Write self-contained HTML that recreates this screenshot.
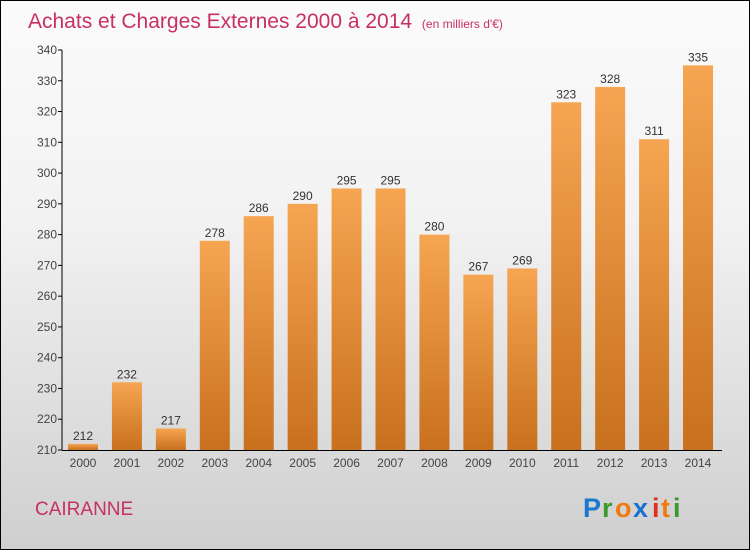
<!DOCTYPE html>
<html><head><meta charset="utf-8"><style>
body{margin:0}
#c{width:748px;height:548px;border:1px solid #000;background:linear-gradient(#fbfbfb,#f2f2f2 40%,#cfcfcf);position:relative;overflow:hidden;font-family:"Liberation Sans",sans-serif}
</style></head><body>
<div id="c">
<svg id="s" width="748" height="548">
<defs><linearGradient id="g" x1="0" y1="0" x2="0" y2="1"><stop offset="0" stop-color="#f6a552"/><stop offset="1" stop-color="#c8701e"/></linearGradient></defs>
<text x="27" y="27" font-size="21" fill="#c83060">Achats et Charges Externes 2000 à 2014 <tspan font-size="12" dx="4">(en milliers d'€)</tspan></text>
<text x="34" y="514" font-size="19" fill="#c83060">CAIRANNE</text>
<g font-size="27" font-weight="bold"><text x="582" y="516" fill="#1a78d0">P</text><text x="601" y="516" fill="#3a9a30">r</text><text x="614" y="516" fill="#f07a10">o</text><text x="632" y="516" fill="#1a70d0">x</text><text x="651" y="516" fill="#e03020">i</text><text x="660" y="516" fill="#f07a10">t</text><text x="672" y="516" fill="#3a9a30">i</text></g>
<g id="bars"></g>
</svg></div>
<script>
const years=["2000","2001","2002","2003","2004","2005","2006","2007","2008","2009","2010","2011","2012","2013","2014"];
const values=[212,232,217,278,286,290,295,295,280,267,269,323,328,311,335];
const ticks=[210,220,230,240,250,260,270,280,290,300,310,320,330,340];
const NS="http://www.w3.org/2000/svg",s=document.getElementById('bars');
const y0=449,y1=49,vmin=210,vmax=340;
const Y=v=>y0-(v-vmin)/(vmax-vmin)*(y0-y1);
const X=i=>82+i*43.93;
function el(t,a,txt){const e=document.createElementNS(NS,t);for(const k in a)e.setAttribute(k,a[k]);if(txt!=null)e.textContent=txt;s.appendChild(e);return e;}
ticks.forEach(t=>{
const l=el('line',{x1:57,x2:61,y1:Y(t),y2:Y(t),stroke:'#000'});


const tx=el('text',{x:56,y:Y(t)+4,'text-anchor':'end','font-size':12,fill:'#444'},t);


});
values.forEach((v,i)=>{
const r=el('rect',{x:X(i)-15,y:Y(v),width:30,height:y0-Y(v),fill:'url(#g)'});


const lb=el('text',{x:X(i),y:Y(v)-4,'text-anchor':'middle','font-size':12,fill:'#333'},v);


const xl=el('text',{x:X(i),y:466,'text-anchor':'middle','font-size':12,fill:'#444'},years[i]);


});
const ya=el('line',{x1:61,x2:61,y1:y1,y2:y0,stroke:'#000'});


const xa=el('line',{x1:61,x2:721,y1:y0+.5,y2:y0+.5,stroke:'#000'});


</script>
</body></html>
